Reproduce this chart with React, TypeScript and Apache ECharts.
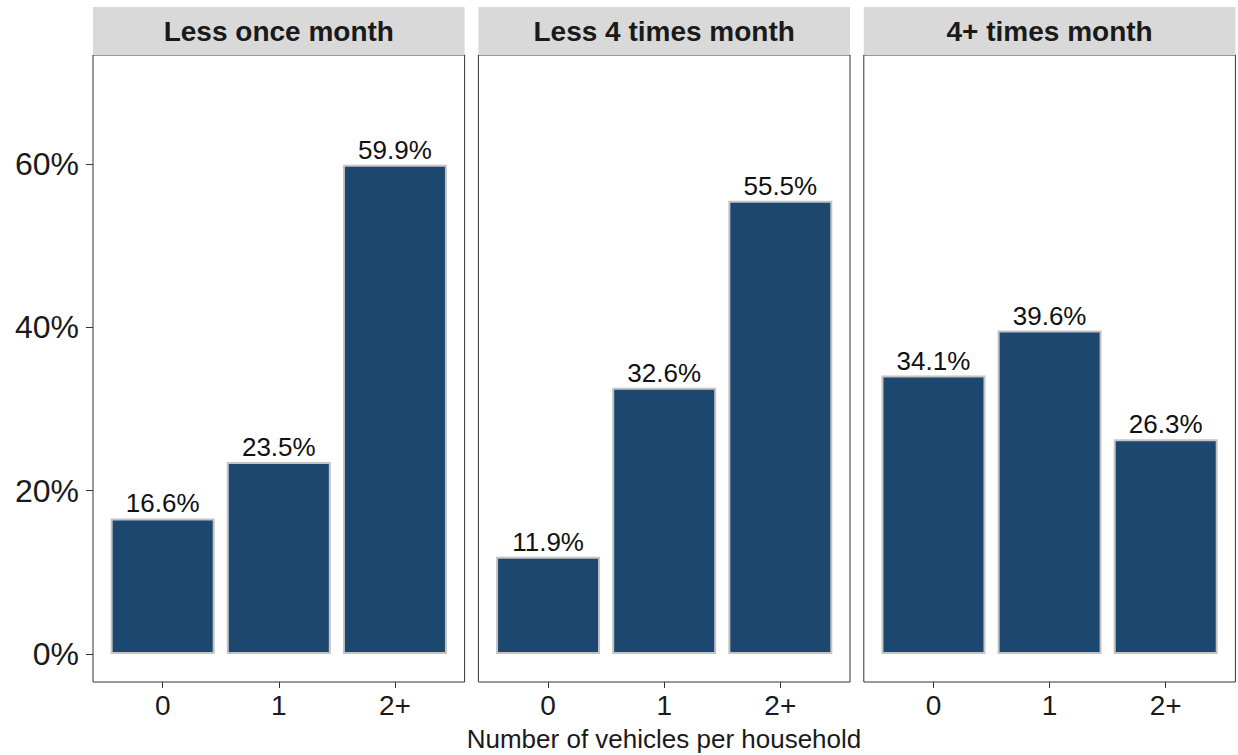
import React, { useEffect, useRef } from "react";
import * as echarts from "echarts";

const panels = ["Less once month", "Less 4 times month", "4+ times month"];
const categories = ["0", "1", "2+"];
const lessOnceMonth = [16.6, 23.5, 59.9];
const less4TimesMonth = [11.9, 32.6, 55.5];
const fourPlusTimesMonth = [34.1, 39.6, 26.3];
const seriesValues = [lessOnceMonth, less4TimesMonth, fourPlusTimesMonth];
const yTicks = [0, 20, 40, 60];
const xTitle = "Number of vehicles per household";

const FONT = "'Liberation Sans', Arial, Helvetica, sans-serif";

export default function App() {
  const ref = useRef<HTMLDivElement>(null);
  useEffect(() => {
    document.body.style.margin = "0";
    const chart = echarts.init(ref.current!, null, { renderer: "svg" });
    const panelLefts = [93, 478.4, 863.8];
    const panelW = 371.6;
    const top = 55;
    const height = 627;
    const grids: any[] = [];
    const xAxes: any[] = [];
    const yAxes: any[] = [];
    const series: any[] = [];
    const graphics: any[] = [];
    panels.forEach((p, i) => {
      grids.push({
        left: panelLefts[i],
        top,
        width: panelW,
        height,
        show: true,
        borderColor: "#333333",
        borderWidth: 1,
        backgroundColor: "#ffffff",
        containLabel: false,
      });
      xAxes.push({
        type: "value",
        gridIndex: i,
        position: "bottom",
        min: 0.4,
        max: 3.6,
        axisLine: { show: false, onZero: false },
        splitLine: { show: false },
        axisTick: {
          show: true,
          length: 6,
          customValues: [1, 2, 3],
          lineStyle: { color: "#333333", width: 1 },
        },
        axisLabel: {
          customValues: [1, 2, 3],
          formatter: (v: number) => categories[Math.round(v) - 1] ?? "",
          fontSize: 28,
          color: "#1a1a1a",
          fontFamily: FONT,
          margin: 9,
        },
      });
      yAxes.push({
        type: "value",
        gridIndex: i,
        min: -3.43,
        max: 73.35,
        axisLine: { show: false },
        splitLine: { show: false },
        axisTick: {
          show: i === 0,
          length: 7,
          customValues: yTicks,
          lineStyle: { color: "#333333", width: 1 },
        },
        axisLabel: {
          show: i === 0,
          customValues: yTicks,
          formatter: (v: number) => `${v}%`,
          fontSize: 32,
          color: "#1a1a1a",
          fontFamily: FONT,
          margin: 14,
        },
      });
      series.push({
        type: "bar",
        xAxisIndex: i,
        yAxisIndex: i,
        data: seriesValues[i].map((v, j) => [j + 1, v]),
        barWidth: 104,
        itemStyle: {
          color: "#1c476f",
          borderColor: "#c4c4c4",
          borderWidth: 2,
        },
        label: {
          show: true,
          position: "top",
          distance: 2,
          formatter: (pr: any) => `${pr.value[1].toFixed(1)}%`,
          fontSize: 26,
          color: "#111111",
          fontFamily: FONT,
        },
      });
      graphics.push({
        type: "rect",
        shape: { x: panelLefts[i], y: 7, width: panelW, height: 48 },
        style: { fill: "#d9d9d9" },
        z: 10,
      });
      graphics.push({
        type: "text",
        x: panelLefts[i] + panelW / 2,
        y: 31.5,
        style: {
          text: p,
          fontSize: 28,
          fontWeight: "bold",
          fontFamily: FONT,
          fill: "#1a1a1a",
          align: "center",
          verticalAlign: "middle",
        },
        z: 11,
      });
    });
    graphics.push({
      type: "text",
      x: 664,
      y: 739,
      style: {
        text: xTitle,
        fontSize: 26,
        fontFamily: FONT,
        fill: "#1a1a1a",
        align: "center",
        verticalAlign: "middle",
      },
    });
    chart.setOption({
      animation: false,
      backgroundColor: "#ffffff",
      grid: grids,
      xAxis: xAxes,
      yAxis: yAxes,
      series,
      graphic: graphics,
    });
    return () => chart.dispose();
  }, []);
  return (
    <div
      ref={ref}
      style={{ position: "absolute", left: 0, top: 0, width: 1238, height: 755 }}
    />
  );
}
